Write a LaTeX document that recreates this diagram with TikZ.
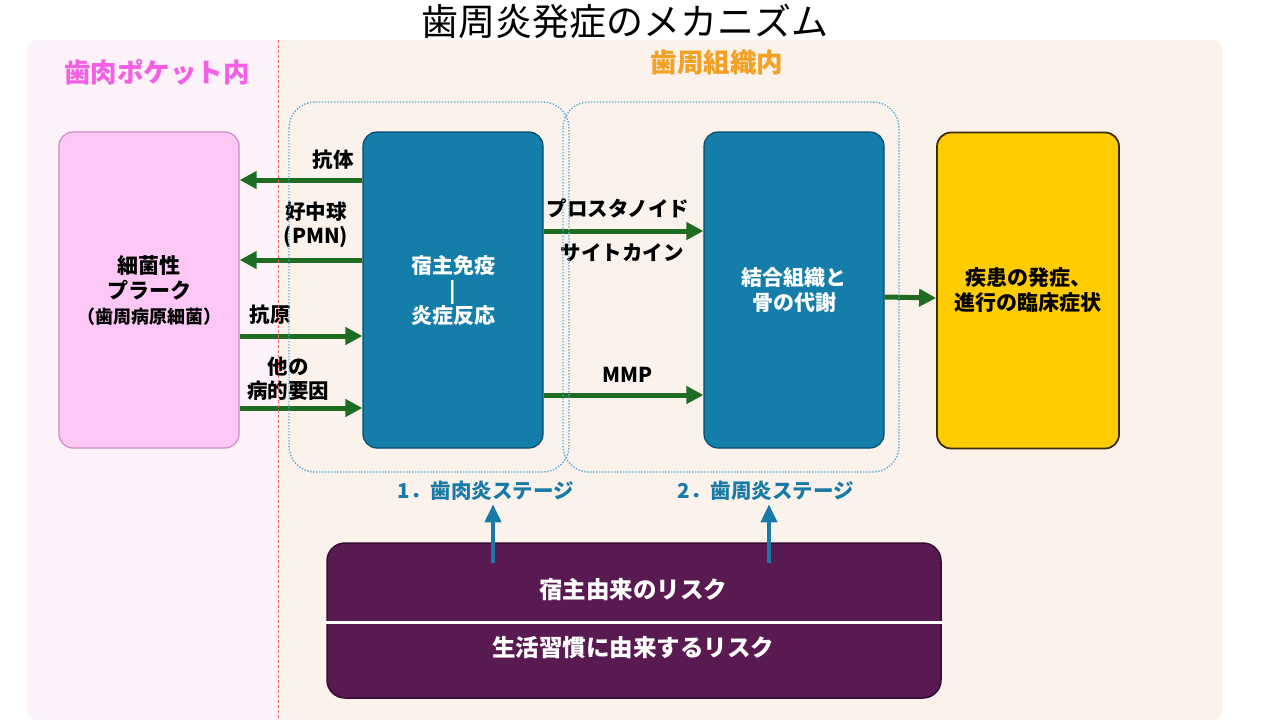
\documentclass[tikz,border=0pt]{standalone}
\usepackage{fontspec}
\setmainfont{Noto Sans CJK JP}
\usetikzlibrary{arrows.meta}
\definecolor{mlpinkbg}{RGB}{253, 242, 250}
\definecolor{mlbeigebg}{RGB}{251, 242, 236}
\definecolor{mlplaque}{RGB}{253, 200, 246}
\definecolor{mlplaqueedge}{RGB}{205, 140, 195}
\definecolor{mlhost}{RGB}{20, 125, 170}
\definecolor{mlhostedge}{RGB}{10, 75, 105}
\definecolor{mlyellow}{RGB}{255, 204, 0}
\definecolor{mlyellowedge}{RGB}{60, 45, 10}
\definecolor{mlpurple}{RGB}{88, 26, 80}
\definecolor{mlpurpleedge}{RGB}{55, 12, 50}
\definecolor{mlgreen}{RGB}{30, 107, 34}
\definecolor{mlteal}{RGB}{24, 122, 166}
\definecolor{mlsky}{RGB}{91, 175, 214}
\definecolor{mlmagenta}{RGB}{245, 95, 230}
\definecolor{mlorange}{RGB}{242, 161, 36}
\definecolor{mlredline}{RGB}{240, 100, 100}

\begin{document}
\begin{tikzpicture}[x=1pt, y=-1pt,
  box/.style={line width=1.2pt, rounded corners=14pt, minimum width=180pt, minimum height=316pt, inner sep=0pt, align=center, font=\bfseries\fontsize{21}{25}\selectfont},
  lbl/.style={align=center, font=\bfseries\fontsize{20.5}{24}\selectfont},
  stagelbl/.style={mlteal, font=\bfseries\fontsize{20.5}{24}\selectfont},
  garrow/.style={-{Triangle[length=17pt,width=17pt]}, line width=5pt, mlgreen},
  barrow/.style={-{Triangle[length=18pt,width=16pt]}, line width=4pt, mlteal},
  stagebox/.style={draw=mlsky, line width=1.4pt, dash pattern=on 1.4pt off 1.6pt, rounded corners=26pt}]
\useasboundingbox (0,0) rectangle (1280,720);

% Backgrounds
\fill[mlpinkbg, rounded corners=10pt] (27,40) rectangle (300,720);
\fill[mlbeigebg, rounded corners=10pt] (278,40) rectangle (1222,720);

% Title and regions
\node[font=\fontsize{37}{42}\selectfont] (title) at (625,21) {歯周炎発症のメカニズム};
\node[mlmagenta, font=\bfseries\fontsize{26.5}{30}\selectfont] (pocket) at (157,72) {歯肉ポケット内};
\node[mlorange, font=\bfseries\fontsize{26.5}{30}\selectfont] (tissue) at (717,63) {歯周組織内};

% Main boxes
\node[box, fill=mlplaque, draw=mlplaqueedge] (plaque) at (149,290) {細菌性\\プラーク\\{\fontsize{18}{25}\selectfont （歯周病原細菌）}};
\node[box, fill=mlhost, draw=mlhostedge, text=white] (host) at (453,290) {宿主免疫\\|\\炎症反応};
\node[box, fill=mlhost, draw=mlhostedge, text=white] (metab) at (794,290) {結合組織と\\骨の代謝};
\node[box, fill=mlyellow, draw=mlyellowedge, line width=1.8pt, minimum width=182pt] (disease) at (1028,290.5) {疾患の発症、\\進行の臨床症状};

% Risk box
\node[fill=mlpurple, draw=mlpurpleedge, line width=1.5pt, rounded corners=18pt, minimum width=614pt, minimum height=155pt] (risk) at (634,620.5) {};
\draw[white, line width=3pt] ([yshift=-1.5pt]risk.west) -- ([yshift=-1.5pt]risk.east);
\node[white, font=\bfseries\fontsize{23.5}{26}\selectfont] (hostrisk) at (633,590) {宿主由来のリスク};
\node[white, font=\bfseries\fontsize{23.5}{26}\selectfont] (liferisk) at (633,648) {生活習慣に由来するリスク};

% Labels
\node[lbl] (antibody) at (333,160) {抗体};
\node[lbl] (pmn) at (316,225) {好中球\\(PMN)};
\node[lbl] (antigen) at (270,315) {抗原};
\node[lbl] (other) at (288,379) {他の\\病的要因};
\node[lbl] (prost) at (618,208) {プロスタノイド};
\node[lbl] (cyto) at (622,253) {サイトカイン};
\node[lbl] (mmp) at (628,375) {MMP};

% Stages
\node[stagelbl] (stage1) at (486,491) {1．歯肉炎ステージ};
\node[stagelbl] (stage2) at (766,491) {2．歯周炎ステージ};

% Arrows
\draw[garrow] ([yshift=110pt]host.west) -- ([yshift=110pt]plaque.east);
\draw[garrow] ([yshift=30pt]host.west) -- ([yshift=30pt]plaque.east);
\draw[garrow] ([yshift=-46pt]plaque.east) -- ([yshift=-46pt]host.west);
\draw[garrow] ([yshift=-118pt]plaque.east) -- ([yshift=-118pt]host.west);
\draw[garrow] ([yshift=59pt]host.east) -- ([yshift=59pt]metab.west);
\draw[garrow] ([yshift=-105pt]host.east) -- ([yshift=-105pt]metab.west);
\draw[garrow] ([yshift=-7pt]metab.east) -- ([yshift=-7.5pt]disease.west);

% Risk arrows
\coordinate (gumfoot) at (493,563);
\coordinate (perifoot) at (769,563);
\draw[barrow] (gumfoot) -- (gumfoot |- stage1.south);
\draw[barrow] (perifoot) -- (perifoot |- stage2.south);

% Stage frames
\draw[stagebox] (289,102) rectangle (569,472);
\draw[stagebox] (563,102) rectangle (899,472);

% Divider
\draw[mlredline, line width=0.6pt, dash pattern=on 3pt off 2pt] (278,40) -- (278,720);
\end{tikzpicture}
\end{document}
